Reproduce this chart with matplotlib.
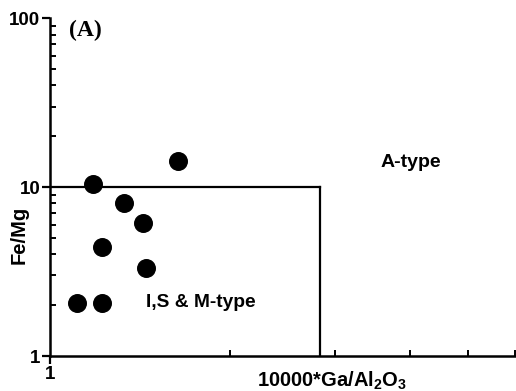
import matplotlib
matplotlib.use("Agg")
import matplotlib.pyplot as plt
from matplotlib.ticker import FixedLocator, NullFormatter

plt.rcParams['font.family'] = ['Liberation Sans', 'DejaVu Sans']
plt.rcParams['font.weight'] = 'bold'
plt.rcParams['mathtext.fontset'] = 'custom'
plt.rcParams['mathtext.bf'] = 'Liberation Sans:bold'
plt.rcParams['mathtext.rm'] = 'Liberation Sans:bold'
plt.rcParams['mathtext.default'] = 'bf'

# sample values: 10000*Ga/Al2O3 vs Fe/Mg
ga_al = [1.18, 1.64, 1.33, 1.43, 1.22, 1.45, 1.11, 1.22]
fe_mg = [10.4, 14.3, 8.0, 6.1, 4.4, 3.3, 2.07, 2.07]

# field boundary between A-type and I,S & M-type
ga_boundary = 2.83
femg_boundary = 10

fig = plt.figure(figsize=(5.16, 3.91), dpi=100)
ax = fig.add_axes([0.097, 0.0895, 0.903, 0.864])

ax.set_xscale('log')
ax.set_yscale('log')
ax.set_xlim(1, 6.02)
ax.set_ylim(1, 100)

ax.plot([1, ga_boundary], [femg_boundary, femg_boundary], color='black', lw=1.6)
ax.plot([ga_boundary, ga_boundary], [1, femg_boundary], color='black', lw=1.6)

ax.scatter(ga_al, fe_mg, s=160, color='black', zorder=3, clip_on=False)

for side in ['top', 'right']:
    ax.spines[side].set_visible(False)
for side in ['left', 'bottom']:
    ax.spines[side].set_linewidth(1.8)

ax.xaxis.set_major_locator(FixedLocator([1]))
ax.xaxis.set_minor_locator(FixedLocator([2, 3, 4, 5, 6]))
ax.yaxis.set_major_locator(FixedLocator([1, 10, 100]))
ax.yaxis.set_minor_locator(FixedLocator([2, 3, 4, 5, 6, 7, 8, 9,
                                         20, 30, 40, 50, 60, 70, 80, 90]))
ax.xaxis.set_minor_formatter(NullFormatter())
ax.yaxis.set_minor_formatter(NullFormatter())
ax.set_xticklabels(['1'])
ax.set_yticklabels(['1', '10', '100'])
ax.tick_params(which='major', direction='out', length=6, width=1.6,
               labelsize=13.5, pad=1)
ax.tick_params(which='minor', direction='in', length=4, width=1.4)
for lab in ax.get_xticklabels() + ax.get_yticklabels():
    lab.set_fontweight('bold')

ax.text(1.145, 85, '(A)', family='Liberation Serif', fontweight='bold',
        fontsize=17, ha='center', va='center')
ax.text(4.02, 13.9, 'A-type', fontsize=14, fontweight='bold',
        ha='center', va='center')
ax.text(1.79, 2.06, 'I,S & M-type', fontsize=13.8, fontweight='bold',
        ha='center', va='center')

fig.text(0.644, 0.026, r'10000*Ga/Al$_2$O$_3$', fontsize=14.5,
         fontweight='bold', ha='center', va='center')
fig.text(0.037, 0.40, 'Fe/Mg', fontsize=14.5, fontweight='bold',
         rotation=90, ha='center', va='center')

fig.savefig('out.png', dpi=100)
